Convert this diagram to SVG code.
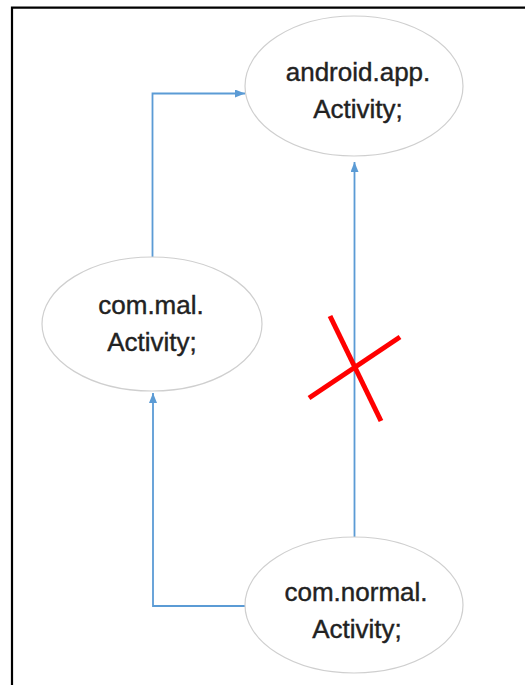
<svg xmlns="http://www.w3.org/2000/svg" width="525" height="685" viewBox="0 0 525 685">
<style>
.node ellipse{fill:#fff;stroke:#cfcfcf;stroke-width:1.2}
.node text{font-family:"Liberation Sans",Arial,sans-serif;font-size:26px;fill:#222;stroke:#222;stroke-width:0.4;text-anchor:middle}
.conn{fill:none;stroke:#5b9bd5;stroke-width:1.8;marker-end:url(#arr)}
.cross{stroke:#ff0000;stroke-width:5;stroke-linecap:butt}
</style>
<defs>
<marker id="arr" viewBox="0 0 10 8" refX="10" refY="4" markerWidth="10" markerHeight="8" markerUnits="userSpaceOnUse" orient="auto">
<path d="M0,0 L10,4 L0,8 Z" fill="#5b9bd5"/>
</marker>
</defs>
<rect width="525" height="685" fill="#fff"/>
<path d="M12,685 V7.7 H525" fill="none" stroke="#000" stroke-width="2.2"/>
<g id="connectors">
<path class="conn" d="M152.5,257 V93.5 H245"/>
<path class="conn" d="M245,606 H153 V393"/>
<path class="conn" d="M354.5,538 V162"/>
</g>
<g id="node-android" class="node">
<ellipse cx="354" cy="86" rx="109" ry="70"/>
<text x="358" y="81">android.app.</text>
<text x="358" y="118">Activity;</text>
</g>
<g id="node-mal" class="node">
<ellipse cx="152" cy="324" rx="110" ry="67"/>
<text x="151" y="314">com.mal.</text>
<text x="152" y="351">Activity;</text>
</g>
<g id="node-normal" class="node">
<ellipse cx="354" cy="605" rx="109" ry="68"/>
<text x="356" y="601">com.normal.</text>
<text x="357" y="638">Activity;</text>
</g>
<g id="cross">
<line class="cross" x1="330" y1="316" x2="381" y2="421"/>
<line class="cross" x1="309" y1="398" x2="400" y2="337"/>
</g>
</svg>
